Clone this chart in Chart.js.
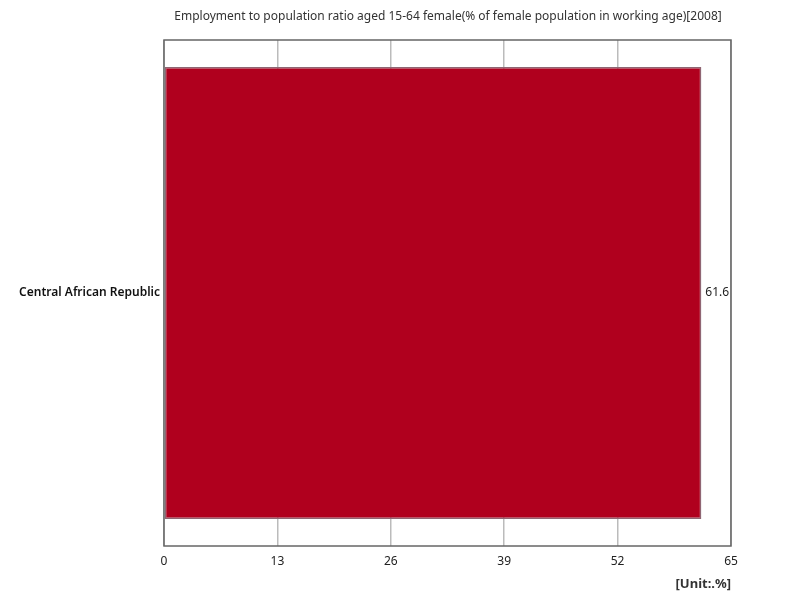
<!DOCTYPE html>
<html>
<head>
<meta charset="utf-8">
<script src="https://cdn.jsdelivr.net/npm/chart.js@4"></script>
<style>
  html, body { margin: 0; padding: 0; background: #fff; }
  #wrap { width: 800px; height: 600px; }
</style>
</head>
<body>
<div id="wrap"><canvas id="chart" width="800" height="600"></canvas></div>
<script>
var categories = ['Central African Republic'];
var values = [61.6];
var xTicks = [0, 13, 26, 39, 52, 65];
var titleText = 'Employment to population ratio aged 15-64 female(% of female population in working age)[2008]';
var unitText = '[Unit:.%]';

var fontFamily = '"Noto Sans", "Open Sans", sans-serif';

var framePlugin = {
  id: 'frame',
  afterDraw: function (chart) {
    var ctx = chart.ctx;
    var a = chart.chartArea;
    ctx.save();
    ctx.strokeStyle = '#666666';
    ctx.lineWidth = 1.5;
    ctx.strokeRect(a.left, a.top, a.right - a.left, a.bottom - a.top);

    // title
    ctx.fillStyle = '#333333';
    ctx.font = '12px ' + fontFamily;
    ctx.textAlign = 'center';
    ctx.textBaseline = 'middle';
    ctx.fillText(titleText, 448, 17);

    // unit
    ctx.font = 'bold 13px ' + fontFamily;
    ctx.textAlign = 'right';
    ctx.fillText(unitText, 731, 584);

    // value labels
    ctx.font = '12px ' + fontFamily;
    ctx.textAlign = 'left';
    ctx.fillStyle = '#222222';
    var meta = chart.getDatasetMeta(0);
    meta.data.forEach(function (bar, i) {
      ctx.fillText(String(values[i]), bar.x + 4, bar.y);
    });
    ctx.restore();
  }
};

new Chart(document.getElementById('chart'), {
  type: 'bar',
  data: {
    labels: categories,
    datasets: [{
      data: values,
      backgroundColor: '#b0001e',
      borderColor: '#8f6673',
      borderWidth: 1.5,
      borderSkipped: false,
      barPercentage: 0.893,
      categoryPercentage: 1.0
    }]
  },
  options: {
    indexAxis: 'y',
    responsive: false,
    animation: false,
    layout: { padding: { left: 0, right: 69, top: 40, bottom: 0 } },
    plugins: {
      legend: { display: false },
      title: { display: false },
      tooltip: { enabled: false }
    },
    scales: {
      x: {
        min: 0,
        max: 65,
        afterBuildTicks: function (scale) {
          scale.ticks = xTicks.map(function (v) { return { value: v }; });
        },
        afterFit: function (scale) { scale.height = 54; },
        grid: { color: '#bbbbbb', lineWidth: 1.5, drawTicks: false },
        border: { display: false },
        ticks: {
          padding: 8,
          color: '#222222',
          font: { family: fontFamily, size: 12 }
        }
      },
      y: {
        afterFit: function (scale) { scale.width = 164; },
        grid: { display: false, drawTicks: false },
        border: { display: false },
        ticks: {
          padding: 4,
          color: '#111111',
          font: { family: fontFamily, size: 12, weight: '600' }
        }
      }
    }
  },
  plugins: [framePlugin]
});
</script>
</body>
</html>
